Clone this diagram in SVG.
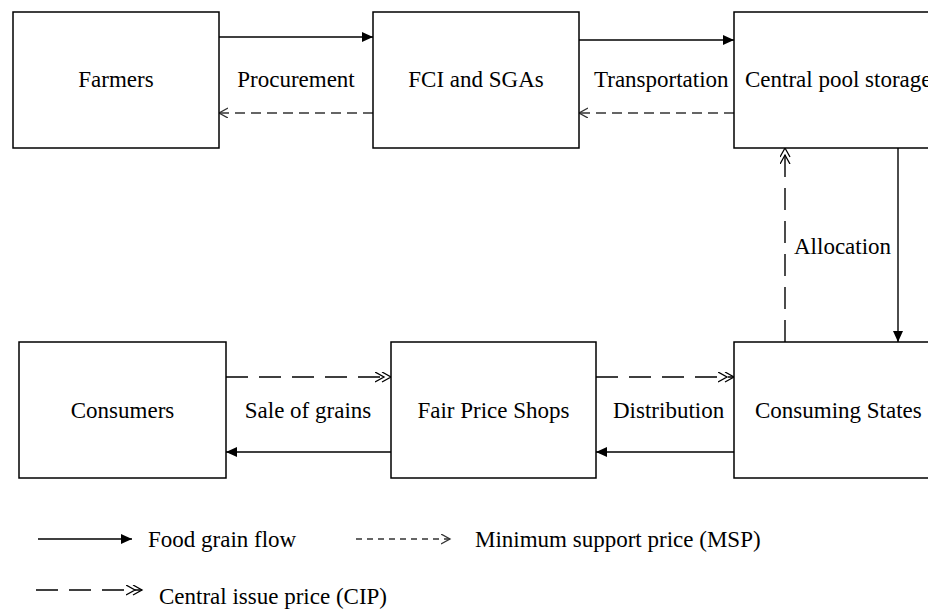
<svg xmlns="http://www.w3.org/2000/svg" width="928" height="609" viewBox="0 0 928 609">
<style>
.box{fill:#fff;stroke:#000;stroke-width:1.5}
.t text{font-size:23px;fill:#000}
.c{text-anchor:middle}
.solid{stroke:#000;stroke-width:1.4;fill:none}
.msp{stroke:#333;stroke-width:1.5;fill:none;stroke-dasharray:10 6}
.cip{stroke:#000;stroke-width:1.4;fill:none;stroke-dasharray:22 11}
</style>
<defs>
<marker id="af" markerUnits="userSpaceOnUse" markerWidth="12" markerHeight="10" refX="11" refY="5" orient="auto"><path d="M0,0 L11,5 L0,10 z" fill="#000"/></marker>
<marker id="ao" markerUnits="userSpaceOnUse" markerWidth="12" markerHeight="12" refX="9" refY="5" orient="auto"><path d="M0,0 L9,5 L0,10" fill="none" stroke="#333" stroke-width="1.3"/></marker>
<marker id="ad" markerUnits="userSpaceOnUse" markerWidth="18" markerHeight="12" refX="16" refY="5" orient="auto"><path d="M0,0 L9,5 L0,10 M7,0 L16,5 L7,10" fill="none" stroke="#000" stroke-width="1.3"/></marker>
</defs>
<g class="t" font-family="'Liberation Serif', 'DejaVu Serif', serif">
<g id="connectors">
<line class="solid" x1="219" y1="37" x2="373" y2="37" marker-end="url(#af)"/>
<line class="solid" x1="579" y1="40" x2="734" y2="40" marker-end="url(#af)"/>
<line class="msp" x1="734" y1="113" x2="579" y2="113" marker-end="url(#ao)"/>
<line class="msp" x1="373" y1="113" x2="219" y2="113" marker-end="url(#ao)"/>
<line class="solid" x1="898" y1="148" x2="898" y2="342" marker-end="url(#af)"/>
<line class="cip" x1="785" y1="342" x2="785" y2="148" marker-end="url(#ad)"/>
<line class="cip" x1="226" y1="377" x2="391" y2="377" marker-end="url(#ad)"/>
<line class="cip" x1="596" y1="377" x2="734" y2="377" marker-end="url(#ad)"/>
<line class="solid" x1="391" y1="452" x2="226" y2="452" marker-end="url(#af)"/>
<line class="solid" x1="734" y1="452" x2="596" y2="452" marker-end="url(#af)"/>
<text x="296" y="87" class="c">Procurement</text>
<text x="594" y="87">Transportation</text>
<text x="794" y="254">Allocation</text>
<text x="308" y="418" class="c">Sale of grains</text>
<text x="613" y="418">Distribution</text>
</g>
<g id="farmers"><rect class="box" x="13" y="12" width="206" height="136"/><text x="116" y="87" class="c">Farmers</text></g>
<g id="fci"><rect class="box" x="373" y="12" width="206" height="136"/><text x="476" y="87" class="c">FCI and SGAs</text></g>
<g id="central-pool"><rect class="box" x="734" y="12" width="204" height="136"/><text x="745" y="87">Central pool storage</text></g>
<g id="consumers"><rect class="box" x="19" y="342" width="207" height="136"/><text x="122.5" y="418" class="c">Consumers</text></g>
<g id="fps"><rect class="box" x="391" y="342" width="205" height="136"/><text x="493.5" y="418" class="c">Fair Price Shops</text></g>
<g id="consuming-states"><rect class="box" x="734" y="342" width="204" height="136"/><text x="755" y="418">Consuming States</text></g>
<g id="legend">
<line class="solid" x1="38" y1="539" x2="132" y2="539" marker-end="url(#af)"/>
<text x="148" y="547">Food grain flow</text>
<line class="msp" x1="356" y1="539" x2="450" y2="539" style="stroke-dasharray:6 5" marker-end="url(#ao)"/>
<text x="475" y="547">Minimum support price (MSP)</text>
<line class="cip" x1="36" y1="590" x2="142" y2="590" marker-end="url(#ad)"/>
<text x="159" y="604">Central issue price (CIP)</text>
</g>
</g>
</svg>
